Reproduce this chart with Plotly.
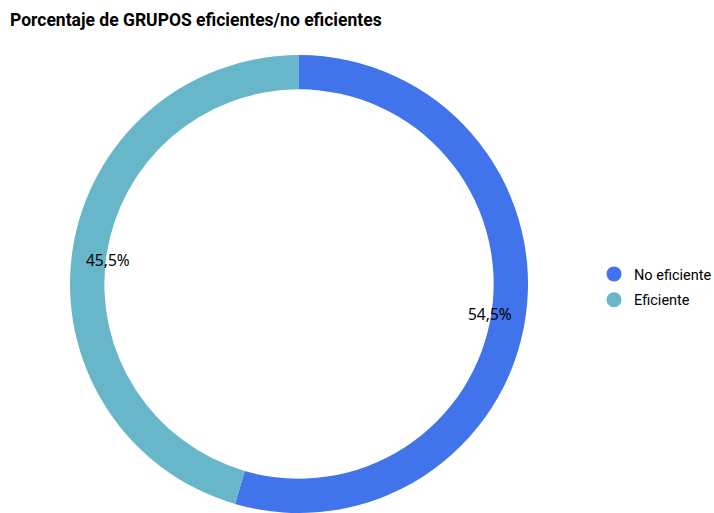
import math
import plotly.graph_objects as go

categories = ["No eficiente", "Eficiente"]
values = [54.5, 45.5]
colors = ["#4173EA", "#67B6C9"]
title_text = "Porcentaje de GRUPOS eficientes/no eficientes"

W, H = 714, 513
cx, cy, R = 299, 284, 229  # pixel geometry of the donut
hole = 0.85
label_r = 193

fig = go.Figure()
fig.add_trace(go.Pie(
    labels=categories, values=values, sort=False, direction="clockwise", rotation=0,
    hole=hole, marker=dict(colors=colors, line=dict(width=0)),
    textinfo="none", hoverinfo="label+percent", showlegend=False,
    domain=dict(x=[(cx - R) / W, (cx + R) / W], y=[(H - cy - R) / H, (H - cy + R) / H]),
))

# legend entries with circular markers
for cat, col in zip(categories, colors):
    fig.add_trace(go.Scatter(x=[None], y=[None], mode="markers", name=cat,
                             marker=dict(symbol="circle", size=15, color=col),
                             legendgroup=cat))

# percentage labels placed near inner edge at slice mid-angle
total = sum(values)
start = 0.0
for v in values:
    frac = v / total
    mid = (start + frac / 2) * 2 * math.pi
    px = cx + label_r * math.sin(mid)
    py = cy + 3 - label_r * math.cos(mid)
    fig.add_annotation(x=px / W, y=(H - py) / H, xref="paper", yref="paper",
                       text=f"{frac*100:.1f}".replace(".", ",") + "%", showarrow=False,
                       font=dict(family="Noto Sans", size=15.5, color="#000000"),
                       xanchor="center", yanchor="middle")
    start += frac

fig.update_layout(
    width=W, height=H,
    margin=dict(l=0, r=0, t=0, b=0, autoexpand=False),
    paper_bgcolor="white", plot_bgcolor="white",
    separators=",.",
    title=dict(text="<b>" + title_text + "</b>", x=10 / W, xanchor="left",
               y=1 - 20 / H, yanchor="middle",
               font=dict(family="Roboto", size=17.5, color="#000000")),
    xaxis=dict(visible=False, domain=[0.9, 0.91]),
    yaxis=dict(visible=False, domain=[0.9, 0.91]),
    legend=dict(x=594 / W, y=(H - 287) / H, xanchor="left", yanchor="middle",
                font=dict(family="Roboto", size=14.5, color="#000000"),
                tracegroupgap=4, traceorder="grouped", bgcolor="rgba(0,0,0,0)"),
    showlegend=True,
)

fig.write_html("out.html")
